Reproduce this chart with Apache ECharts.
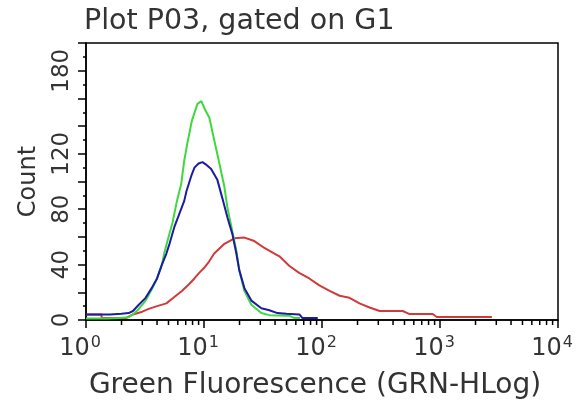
<!DOCTYPE html>
<html>
<head>
<meta charset="utf-8">
<script src="https://cdn.jsdelivr.net/npm/echarts@6/dist/echarts.min.js"></script>
<style>html,body{margin:0;padding:0;background:#fff}#c{width:579px;height:400px}</style>
</head>
<body>
<div id="c"></div>
<script>
var titleText = 'Plot P03, gated on G1';
var xName = 'Green Fluorescence (GRN-HLog)';
var yName = 'Count';
var yLabelValues = [0, 40, 80, 120, 180];
var xMinorTicks = [2,3,4,5,6,7,8,9,20,30,40,50,60,70,80,90,200,300,400,500,600,700,800,900,2000,3000,4000,5000,6000,7000,8000,9000];

var redData = [[1.0,4],[1.35,4],[1.36,1.5],[2.2,1.5],[2.5,4],[3.0,6],[3.4,8],[4.0,10],[4.8,12],[5.5,16],[6.5,21],[7.5,26],[8.3,30],[9.1,34],[10,37.5],[11,42],[12.2,48],[14.9,55],[18.1,59],[22,59.5],[26.7,57],[32.5,52],[39.5,48],[43.6,46],[53,39],[64,34],[78,30],[95,25],[116,21],[141,17.5],[171,16],[208,12],[253,9],[308,6.5],[483,6.5],[553,4.3],[867,4.3],[938,2.2],[2750,2.2]];
var greenData = [[1.0,1],[1.5,1],[1.9,1.5],[2.3,2],[2.5,4],[2.8,8],[3.2,14],[3.6,22],[4.0,30],[4.4,40],[4.6,48],[4.9,57],[5.4,70],[5.9,86],[6.4,98],[6.8,115],[7.2,127],[7.9,144],[8.8,156],[9.5,158],[10.2,152],[11.1,146],[12.2,130],[13.5,113],[14.9,96],[15.8,81],[17.4,64],[18.8,50],[19.9,36],[22.0,21],[25.2,11],[30.6,5],[35.8,3.5],[53,3],[58,1.5],[65,1.5]];
var blueData = [[1.0,4],[1.6,4],[2.0,4.5],[2.3,5],[2.5,6.5],[2.8,11],[3.2,16],[3.6,23],[4.0,30],[4.4,40],[4.8,48],[5.1,55],[5.6,67],[6.2,77],[6.8,86],[7.1,93],[7.8,104],[8.3,110],[9.0,113],[9.7,114],[10.5,112],[11.5,109],[13.0,101],[14.3,88],[15.8,74],[17.4,62],[18.8,48],[19.9,36],[22.0,23],[25.2,14],[30.6,8.5],[35.8,7],[41.9,5],[50,4.5],[64.4,4],[68,1.5],[92,1.5]];

var FONT = 'DejaVu Sans';
var chart = echarts.init(document.getElementById('c'), null, {renderer: 'canvas'});
chart.setOption({
  backgroundColor: '#fff',
  animation: false,
  title: {
    text: titleText, left: 79, top: 2,
    textStyle: {fontFamily: FONT, fontSize: 28.5, fontWeight: 'normal', color: '#333'}
  },
  grid: {left: 86, right: 21, top: 43, bottom: 80, outerBoundsMode: 'none', containLabel: false, show: true, borderColor: '#000', borderWidth: 1.5, backgroundColor: 'transparent'},
  xAxis: {
    type: 'log', logBase: 10, min: 1, max: 10000,
    name: xName, nameLocation: 'middle', nameGap: 52,
    nameTextStyle: {fontFamily: FONT, fontSize: 28, color: '#333', padding: [0, 14, 0, 0]},
    axisLine: {show: true, lineStyle: {color: '#000', width: 1.5}},
    axisTick: {show: true, inside: false, length: 8, lineStyle: {color: '#000', width: 1.5}},
    minorTick: {show: false},
    splitLine: {show: false},
    axisLabel: {
      margin: 15, padding: [0, 12, 0, 0],
      formatter: function (v) { var e = Math.round(Math.log(v) / Math.LN10); return '{b|10}{s|' + e + '}'; },
      rich: {
        b: {fontFamily: FONT, fontSize: 24, color: '#333'},
        s: {fontFamily: FONT, fontSize: 16, color: '#333', padding: [0, 0, 12, 1]}
      }
    }
  },
  yAxis: {
    type: 'value', min: 0, max: 200, interval: 20,
    name: yName, nameLocation: 'middle', nameGap: 45,
    nameTextStyle: {fontFamily: FONT, fontSize: 24, color: '#333'},
    axisLine: {show: true, lineStyle: {color: '#000', width: 1.5}},
    axisTick: {show: true, inside: false, length: 8, lineStyle: {color: '#000', width: 1.5}},
    minorTick: {show: true, splitNumber: 2, length: 3, lineStyle: {color: '#000', width: 1.5}},
    splitLine: {show: false},
    axisLabel: {
      rotate: 90, margin: 12,
      fontFamily: FONT, fontSize: 23, color: '#333',
      formatter: function (v) { return yLabelValues.indexOf(v) >= 0 ? String(v) : ''; }
    }
  },
  series: [
    {type: 'line', data: redData, showSymbol: false, lineStyle: {color: '#d03a3a', width: 2}, z: 3},
    {type: 'line', data: greenData, showSymbol: false, lineStyle: {color: '#3fd83f', width: 2}, z: 4},
    {type: 'line', data: blueData, showSymbol: false, lineStyle: {color: '#1c1ca0', width: 2}, z: 5},
    {
      type: 'custom', silent: true, clip: false, z: 10,
      data: xMinorTicks.map(function (v) { return [v, 0]; }),
      renderItem: function (params, api) {
        var p = api.coord([api.value(0), 0]);
        return {type: 'line', shape: {x1: p[0], y1: p[1], x2: p[0], y2: p[1] + 5}, style: {stroke: '#000', lineWidth: 1.5}};
      }
    }
  ]
});
</script>
</body>
</html>
